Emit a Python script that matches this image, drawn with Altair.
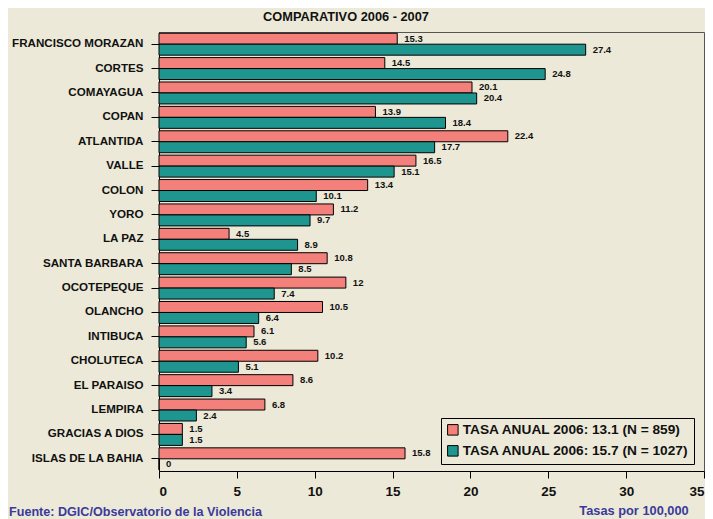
import altair as alt
import pandas as pd

provincias = ["FRANCISCO MORAZAN", "CORTES", "COMAYAGUA", "COPAN", "ATLANTIDA", "VALLE",
              "COLON", "YORO", "LA PAZ", "SANTA BARBARA", "OCOTEPEQUE", "OLANCHO",
              "INTIBUCA", "CHOLUTECA", "EL PARAISO", "LEMPIRA", "GRACIAS A DIOS",
              "ISLAS DE LA BAHIA"]
tasa_2006 = [15.3, 14.5, 20.1, 13.9, 22.4, 16.5, 13.4, 11.2, 4.5, 10.8, 12, 10.5,
             6.1, 10.2, 8.6, 6.8, 1.5, 15.8]
tasa_2007 = [27.4, 24.8, 20.4, 18.4, 17.7, 15.1, 10.1, 9.7, 8.9, 8.5, 7.4, 6.4,
             5.6, 5.1, 3.4, 2.4, 1.5, 0]
series = ["TASA ANUAL 2006: 13.1 (N = 859)", "TASA ANUAL 2006: 15.7 (N = 1027)"]
x_ticks = [0, 5, 10, 15, 20, 25, 30, 35]
subtitle = "COMPARATIVO 2006 - 2007"
fuente = "Fuente: DGIC/Observatorio de la Violencia"
unidad = "Tasas por 100,000"

FONT = "Liberation Sans"
BG = "#ECE9D8"
PINK = "#F3807A"
TEAL = "#1E968F"
BLUE = "#3A3A9A"

rows = []
for p, a, b in zip(provincias, tasa_2006, tasa_2007):
    rows.append({"prov": p, "serie": series[0], "tasa": a, "txt": f"{a:g}"})
    rows.append({"prov": p, "serie": series[1], "tasa": b, "txt": f"{b:g}"})
df = pd.DataFrame(rows)

y = alt.Y("prov:N", sort=provincias,
          scale=alt.Scale(paddingInner=0.1, paddingOuter=0.05),
          axis=alt.Axis(title=None, labelFont=FONT, labelFontSize=11.6, labelFontWeight="bold",
                        labelColor="#111111", tickSize=8, tickColor="black",
                        domainColor="black", labelPadding=8, labelLimit=0))
yoff = alt.YOffset("serie:N", sort=series)
x = alt.X("tasa:Q", scale=alt.Scale(domain=[0, 35], nice=False),
          axis=alt.Axis(values=x_ticks, title=None, grid=False, labelFont=FONT,
                        labelFontSize=13.5, labelFontWeight="bold", labelColor="#111111",
                        tickSize=7, labelPadding=6, domainColor="black", tickColor="black"))
color = alt.Color("serie:N",
                  scale=alt.Scale(domain=series, range=[PINK, TEAL]),
                  legend=alt.Legend(title=None, orient="none", legendX=282, legendY=386,
                                    strokeColor="black", fillColor=BG, padding=5,
                                    labelFont=FONT, labelFontSize=13.7, labelFontWeight="bold",
                                    labelColor="#111111", symbolType="square", symbolSize=110,
                                    symbolStrokeColor="black", symbolStrokeWidth=1,
                                    symbolOpacity=1, labelOffset=3, rowPadding=5,
                                    labelLimit=0))

bars = alt.Chart(df).mark_bar(stroke="black", strokeWidth=1, opacity=1).encode(
    x=x, y=y, yOffset=yoff, color=color)

labels = alt.Chart(df).mark_text(align="left", baseline="middle", dx=7, font=FONT,
                                 fontSize=9.5, fontWeight="bold", color="#111111").encode(
    x=x, y=y, yOffset=yoff, text="txt:N")

sub = alt.Chart(pd.DataFrame({"t": [subtitle]})).mark_text(
    font=FONT, fontSize=12.8, fontWeight="bold", color="#111111", align="center",
    baseline="middle").encode(text="t:N", x=alt.value(187), y=alt.value(-15))

src = alt.Chart(pd.DataFrame({"t": [fuente]})).mark_text(
    font=FONT, fontSize=12.6, fontWeight="bold", color=BLUE, align="left",
    baseline="middle").encode(text="t:N", x=alt.value(-150), y=alt.value(480))

unit = alt.Chart(pd.DataFrame({"t": [unidad]})).mark_text(
    font=FONT, fontSize=12.8, fontWeight="bold", color=BLUE, align="center",
    baseline="middle").encode(text="t:N", x=alt.value(475), y=alt.value(479))

chart = alt.layer(bars, labels, sub, src, unit).properties(
    width=545, height=439,
    background=BG,
    autosize=alt.AutoSizeParams(type="none"),
    padding={"left": 151, "top": 24, "right": 1, "bottom": 48},
).configure_view(stroke="#555555", strokeWidth=1)

chart.save("out.html", embed_options={"renderer": "svg", "actions": False})
